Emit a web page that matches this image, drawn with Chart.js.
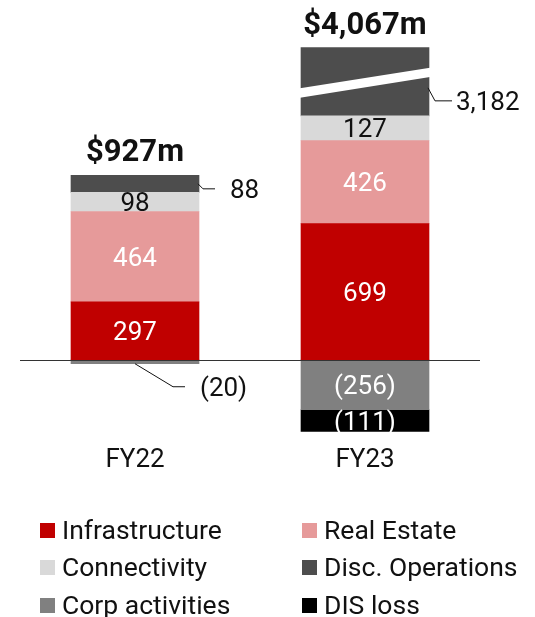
<!DOCTYPE html>
<html>
<head>
<meta charset="utf-8">
<script src="https://cdn.jsdelivr.net/npm/chart.js@4/dist/chart.umd.min.js"></script>
<style>
html,body{margin:0;padding:0;background:#fff;}
#wrap{position:relative;width:535px;height:617px;overflow:hidden;}
#chart{position:absolute;left:0;top:0;}
.item{position:absolute;height:30px;line-height:30px;display:flex;align-items:center;white-space:nowrap;font-family:Roboto,"DejaVu Sans",sans-serif;font-size:26.5px;color:#111;}
.sw{width:15px;height:15px;flex:none;margin-right:7px;}
</style>
</head>
<body>
<div id="wrap">
<canvas id="chart" width="535" height="617"></canvas>
<div id="legend"></div>
</div>
<script>
// ---- data ----
const categories = ['FY22', 'FY23'];
const totals = [927, 4067];
const infrastructure = [297, 699];
const realEstate = [464, 426];
const connectivity = [98, 127];
const discOperations = [88, 3182];
const corpActivities = [-20, -256];
const disLoss = [null, -111];

// broken-axis display for very large segments
const brokenAbove = 1000;
const brokenShownAs = 350;

const seriesNames = ['Infrastructure', 'Real Estate', 'Connectivity', 'Disc. Operations', 'Corp activities', 'DIS loss'];
const seriesColors = ['#C00000', '#E69A9A', '#D9D9D9', '#4D4D4D', '#808080', '#000000'];
const seriesTextColors = ['#ffffff', '#ffffff', '#111111', '#111111', '#ffffff', '#ffffff'];
const seriesValues = [infrastructure, realEstate, connectivity, discOperations, corpActivities, disLoss];

const FONT = 'Roboto, "DejaVu Sans", sans-serif';
const LABEL_SIZE = 26;

function fmt(v) {
  const s = Math.abs(v).toLocaleString('en-US');
  return v < 0 ? '(' + s + ')' : s;
}

const datasets = seriesValues.map((vals, i) => ({
  label: seriesNames[i],
  data: vals.map(v => (v !== null && Math.abs(v) > brokenAbove) ? Math.sign(v) * brokenShownAs : v),
  rawValues: vals,
  backgroundColor: seriesColors[i],
  textColor: seriesTextColors[i],
  borderWidth: 0,
  barThickness: 128
}));

// zero line
const zeroLine = {
  id: 'zeroLine',
  afterDatasetsDraw(chart) {
    const ctx = chart.ctx, a = chart.chartArea;
    const y = Math.round(chart.scales.y.getPixelForValue(0)) + 0.5;
    ctx.save();
    ctx.strokeStyle = '#333';
    ctx.lineWidth = 1;
    ctx.beginPath();
    ctx.moveTo(a.left, y);
    ctx.lineTo(a.right, y);
    ctx.stroke();
    ctx.restore();
  }
};

// white slanted break on broken bars
const axisBreak = {
  id: 'axisBreak',
  afterDatasetsDraw(chart) {
    const ctx = chart.ctx;
    chart.data.datasets.forEach((ds, di) => {
      const meta = chart.getDatasetMeta(di);
      meta.data.forEach((el, j) => {
        const v = ds.rawValues[j];
        if (v === null || Math.abs(v) <= brokenAbove) return;
        const top = Math.min(el.y, el.base), h = Math.abs(el.base - el.y);
        const l = el.x - el.width / 2 - 1, r = el.x + el.width / 2 + 1;
        ctx.save();
        ctx.fillStyle = '#ffffff';
        ctx.beginPath();
        ctx.moveTo(l, top + 0.597 * h);
        ctx.lineTo(r, top + 0.294 * h);
        ctx.lineTo(r, top + 0.430 * h);
        ctx.lineTo(l, top + 0.735 * h);
        ctx.closePath();
        ctx.fill();
        ctx.restore();
      });
    });
  }
};

// value labels (inside) and callouts (outside)
const valueLabels = {
  id: 'valueLabels',
  afterDatasetsDraw(chart) {
    const ctx = chart.ctx;
    ctx.save();
    ctx.font = '400 ' + LABEL_SIZE + 'px ' + FONT;
    const capHalf = LABEL_SIZE * 0.711 / 2;
    chart.data.datasets.forEach((ds, di) => {
      const meta = chart.getDatasetMeta(di);
      meta.data.forEach((el, j) => {
        const v = ds.rawValues[j];
        if (v === null || v === 0) return;
        const h = Math.abs(el.base - el.y);
        const broken = Math.abs(v) > brokenAbove;
        const txt = fmt(v);
        if (!broken && h >= 18) {
          ctx.fillStyle = ds.textColor;
          ctx.textAlign = 'center';
          ctx.textBaseline = 'alphabetic';
          ctx.fillText(txt, el.x, (el.y + el.base) / 2 + capHalf);
          return;
        }
        // callout
        let ax, ay, dx, dy, hx, gap;
        const right = el.x + el.width / 2 - 1;
        if (broken) {
          const top = Math.min(el.y, el.base);
          ax = right; ay = top + 0.59 * h; dx = 7; dy = 13; hx = 24; gap = 4;
        } else if (v > 0) {
          ax = right; ay = (el.y + el.base) / 2; dx = 5; dy = 5; hx = 17; gap = 15;
        } else {
          ax = el.x; ay = el.y; dx = 38; dy = 23; hx = 50; gap = 15;
        }
        ctx.strokeStyle = '#111';
        ctx.lineWidth = 1;
        ctx.beginPath();
        ctx.moveTo(ax, ay);
        ctx.lineTo(ax + dx, ay + dy);
        ctx.lineTo(ax + hx, ay + dy);
        ctx.stroke();
        ctx.fillStyle = '#111';
        ctx.textAlign = 'left';
        ctx.textBaseline = 'alphabetic';
        ctx.fillText(txt, ax + hx + gap, ay + dy + capHalf);
      });
    });
    ctx.restore();
  }
};

// totals above the stacks
const totalLabels = {
  id: 'totalLabels',
  afterDatasetsDraw(chart) {
    const ctx = chart.ctx;
    ctx.save();
    ctx.font = '700 31px ' + FONT;
    ctx.fillStyle = '#111';
    ctx.textAlign = 'center';
    ctx.textBaseline = 'alphabetic';
    categories.forEach((c, j) => {
      let top = Infinity, x = 0;
      chart.data.datasets.forEach((ds, di) => {
        const el = chart.getDatasetMeta(di).data[j];
        if (!el || ds.rawValues[j] === null) return;
        top = Math.min(top, el.y, el.base);
        x = el.x;
      });
      ctx.fillText('$' + totals[j].toLocaleString('en-US') + 'm', x, top - 14);
    });
    ctx.restore();
  }
};

new Chart(document.getElementById('chart'), {
  type: 'bar',
  data: { labels: categories, datasets: datasets },
  options: {
    responsive: false,
    animation: false,
    devicePixelRatio: 1,
    layout: { padding: { left: 20, right: 55, top: 28.5, bottom: 133 } },
    plugins: { legend: { display: false }, tooltip: { enabled: false } },
    scales: {
      x: {
        stacked: true,
        grid: { display: false, drawTicks: false },
        border: { display: false },
        ticks: { font: { family: FONT, size: 26 }, color: '#111', padding: 7.5 }
      },
      y: { stacked: true, display: false, min: -400, max: 1700 }
    }
  },
  plugins: [zeroLine, axisBreak, valueLabels, totalLabels]
});

// legend (two columns)
const legendPos = [[40, 530], [302, 530], [40, 567], [302, 567], [40, 605], [302, 605]];
const legend = document.getElementById('legend');
seriesNames.forEach((name, i) => {
  const d = document.createElement('div');
  d.className = 'item';
  d.style.left = legendPos[i][0] + 'px';
  d.style.top = (legendPos[i][1] - 15) + 'px';
  const sw = document.createElement('span');
  sw.className = 'sw';
  sw.style.background = seriesColors[i];
  const t = document.createElement('span');
  t.textContent = name;
  d.appendChild(sw);
  d.appendChild(t);
  legend.appendChild(d);
});
</script>
</body>
</html>
